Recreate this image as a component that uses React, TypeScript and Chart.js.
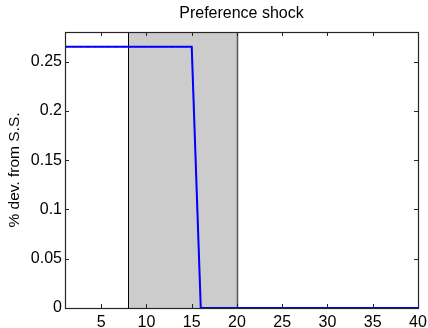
import React, { useEffect, useRef } from "react";
import { Chart, registerables } from "chart.js";

Chart.register(...registerables);

const periods = [1, 2, 3, 4, 5, 6, 7, 8, 9, 10, 11, 12, 13, 14, 15, 16, 17, 18, 19, 20, 21, 22, 23, 24, 25, 26, 27, 28, 29, 30, 31, 32, 33, 34, 35, 36, 37, 38, 39, 40];
const responseA = [0.265, 0.265, 0.265, 0.265, 0.265, 0.265, 0.265, 0.265, 0.265, 0.265, 0.265, 0.265, 0.265, 0.265, 0.265, 0, 0, 0, 0, 0, 0, 0, 0, 0, 0, 0, 0, 0, 0, 0, 0, 0, 0, 0, 0, 0, 0, 0, 0, 0];
const responseB = [0.265, 0.265, 0.265, 0.265, 0.265, 0.265, 0.265, 0.265, 0.265, 0.265, 0.265, 0.265, 0.265, 0.265, 0.265, 0, 0, 0, 0, 0, 0, 0, 0, 0, 0, 0, 0, 0, 0, 0, 0, 0, 0, 0, 0, 0, 0, 0, 0, 0];
const xTicks = [5, 10, 15, 20, 25, 30, 35, 40];
const yTicks = [0, 0.05, 0.1, 0.15, 0.2, 0.25];
const yTickLabels = ["0", "0.05", "0.1", "0.15", "0.2", "0.25"];
const shadeRange = [8, 20];
const xRange = [1, 40];
const yRange = [0, 0.28];

const FONT = "'Liberation Sans', Arial, Helvetica, sans-serif";

const boxPlugin = {
  id: "matlabBox",
  beforeDatasetsDraw(chart: any) {
    const { ctx, chartArea, scales } = chart;
    const x = scales.x;
    const x0 = x.getPixelForValue(shadeRange[0]);
    const x1 = x.getPixelForValue(shadeRange[1]);
    ctx.save();
    ctx.fillStyle = "#cccccc";
    ctx.fillRect(x0, chartArea.top, x1 - x0, chartArea.bottom - chartArea.top);
    ctx.lineWidth = 1;
    ctx.strokeStyle = "#000000";
    ctx.beginPath();
    ctx.moveTo(Math.round(x0) + 0.5, chartArea.top);
    ctx.lineTo(Math.round(x0) + 0.5, chartArea.bottom);
    ctx.stroke();
    ctx.strokeStyle = "#555555";
    ctx.lineWidth = 1.5;
    ctx.beginPath();
    ctx.moveTo(Math.round(x1) + 0.5, chartArea.top);
    ctx.lineTo(Math.round(x1) + 0.5, chartArea.bottom);
    ctx.stroke();
    ctx.restore();
  },
  afterDatasetsDraw(chart: any) {
    const { ctx, chartArea, scales } = chart;
    const { left, right, top, bottom } = chartArea;
    const tl = 4;
    ctx.save();
    ctx.strokeStyle = "#262626";
    ctx.lineWidth = 1;
    ctx.beginPath();
    xTicks.forEach((v) => {
      const px = Math.round(scales.x.getPixelForValue(v)) + 0.5;
      ctx.moveTo(px, bottom);
      ctx.lineTo(px, bottom - tl);
      ctx.moveTo(px, top);
      ctx.lineTo(px, top + tl);
    });
    yTicks.forEach((v) => {
      const py = Math.round(scales.y.getPixelForValue(v)) + 0.5;
      ctx.moveTo(left, py);
      ctx.lineTo(left + tl, py);
      ctx.moveTo(right, py);
      ctx.lineTo(right - tl, py);
    });
    ctx.stroke();
    ctx.lineWidth = 1.2;
    ctx.strokeRect(Math.round(left) + 0.5, Math.round(top) + 0.5, Math.round(right - left), Math.round(bottom - top));
    ctx.restore();
  },
};

export default function App() {
  const ref = useRef<HTMLCanvasElement | null>(null);
  useEffect(() => {
    document.body.style.margin = "0";
    const canvas = ref.current;
    if (!canvas) return;
    const chart = new Chart(canvas, {
      type: "line",
      data: {
        datasets: [
          {
            data: periods.map((p, i) => ({ x: p, y: responseA[i] })),
            borderColor: "#0000ff",
            borderWidth: 2,
            pointRadius: 0,
            fill: false,
            tension: 0,
            clip: 4,
            order: 1,
          },
          {
            data: periods.map((p, i) => ({ x: p, y: responseB[i] })),
            borderColor: "#ff0000",
            borderWidth: 1,
            borderDash: [4, 3],
            pointRadius: 0,
            fill: false,
            tension: 0,
            clip: 4,
            order: 2,
          },
        ],
      },
      options: {
        animation: false,
        responsive: false,
        events: [],
        layout: { padding: { left: 0, right: 10, top: 0, bottom: 0 } },
        plugins: {
          legend: { display: false },
          tooltip: { enabled: false },
          title: {
            display: true,
            text: "Preference shock",
            fullSize: false,
            color: "#000000",
            font: { family: FONT, size: 16, weight: "normal" },
            padding: { top: 4, bottom: 8.8 },
          },
        },
        scales: {
          x: {
            type: "linear",
            min: xRange[0],
            max: xRange[1],
            grid: { display: false, drawTicks: false },
            border: { display: false },
            ticks: {
              color: "#000000",
              font: { family: FONT, size: 16 },
              padding: 5,
              maxRotation: 0,
              callback: (v: any) => String(v),
            },
            afterBuildTicks: (s: any) => {
              s.ticks = xTicks.map((v) => ({ value: v }));
            },
            afterFit: (s: any) => {
              s.height = 20;
              s.paddingLeft = 0;
              s.paddingRight = 0;
            },
          },
          y: {
            type: "linear",
            min: yRange[0],
            max: yRange[1],
            grid: { display: false, drawTicks: false },
            border: { display: false },
            ticks: {
              color: "#000000",
              font: { family: FONT, size: 16 },
              padding: 3,
              callback: (v: any) => {
                const i = yTicks.indexOf(v);
                return i >= 0 ? yTickLabels[i] : String(v);
              },
            },
            afterBuildTicks: (s: any) => {
              s.ticks = yTicks.map((v) => ({ value: v }));
            },
            title: {
              display: true,
              text: "% dev. from S.S.",
              color: "#000000",
              font: { family: FONT, size: 15.5 },
              padding: { top: 5.5, bottom: 0 },
            },
            afterFit: (s: any) => {
              s.width = 65;
              s.paddingTop = 0;
              s.paddingBottom = 0;
            },
          },
        },
      },
      plugins: [boxPlugin],
    });
    return () => chart.destroy();
  }, []);
  return (
    <div style={{ width: 428, height: 328, background: "#ffffff" }}>
      <canvas ref={ref} width={428} height={328} style={{ display: "block" }} />
    </div>
  );
}
